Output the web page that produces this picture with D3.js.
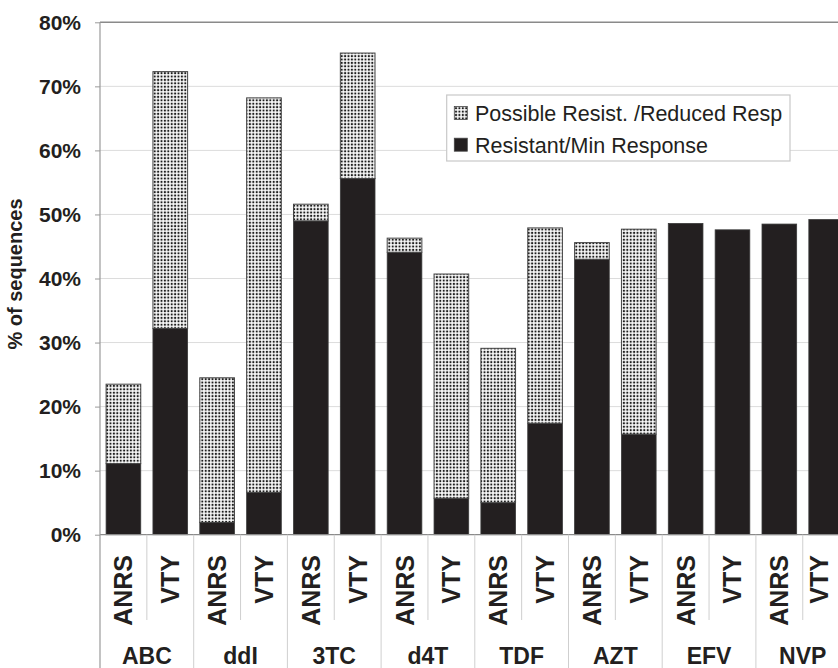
<!DOCTYPE html>
<html>
<head>
<meta charset="utf-8">
<script src="https://cdn.jsdelivr.net/npm/d3@7"></script>
<style>
  body { margin: 0; background: #fff; }
  svg { display: block; font-family: "Liberation Sans", Arial, sans-serif; }
</style>
</head>
<body>
<div id="chart"></div>
<script>
var drugs = ['ABC', 'ddI', '3TC', 'd4T', 'TDF', 'AZT', 'EFV', 'NVP'];
var sources = ['ANRS', 'VTY'];
// % of sequences, one value per drug/source pair (ANRS, VTY, ANRS, VTY ...)
var resistant = [11.1, 32.2, 1.9, 6.6, 49.0, 55.6, 44.1, 5.7, 5.0, 17.4, 43.0, 15.7, 48.6, 47.6, 48.5, 49.2];
var possible = [12.4, 40.1, 22.6, 61.6, 2.6, 19.6, 2.2, 35.0, 24.1, 30.5, 2.6, 32.0, 0, 0, 0, 0];
var yTicks = [0, 10, 20, 30, 40, 50, 60, 70, 80];
var legendLabels = ['Possible Resist. /Reduced Resp', 'Resistant/Min Response'];

var width = 838;
var height = 668;
// window.top is read-only, so don't call it "top"
var plotLeft = 100, plotTop = 22.3, plotBottom = 534.7, plotRight = 849.6;
var ink = '#231f20';

var rows = [];
drugs.forEach(function(d, i) {
  sources.forEach(function(s, j) {
    var k = i * 2 + j;
    rows.push({ key: d + '-' + s, drug: d, source: s, res: resistant[k], pos: possible[k] });
  });
});

var svg = d3.select('#chart')
  .append('svg')
  .attr('width', width)
  .attr('height', height);

var pattern = svg.append('defs')
  .append('pattern')
  .attr('id', 'dots')
  .attr('patternUnits', 'userSpaceOnUse')
  .attr('width', 3.4)
  .attr('height', 3.4);
pattern.append('rect').attr('width', 3.4).attr('height', 3.4).attr('fill', '#fff');
pattern.append('rect').attr('x', 0.7).attr('y', 0.7).attr('width', 2).attr('height', 2).attr('fill', '#1e1e1e');

var x = d3.scaleBand()
  .domain(rows.map(function(r) { return r.key; }))
  .range([plotLeft, plotRight])
  .paddingInner(0.26)
  .paddingOuter(0.13);

var y = d3.scaleLinear()
  .domain([0, 80])
  .range([plotBottom, plotTop]);

// gridlines
svg.append('g')
  .selectAll('line')
  .data(yTicks.slice(1, -1))
  .enter()
  .append('line')
  .attr('x1', plotLeft)
  .attr('x2', width)
  .attr('y1', function(d) { return y(d); })
  .attr('y2', function(d) { return y(d); })
  .attr('stroke', '#dcdcdc')
  .attr('stroke-width', 1);

svg.append('line')
  .attr('x1', plotLeft).attr('x2', width)
  .attr('y1', y(80)).attr('y2', y(80))
  .attr('stroke', '#8a8a8a')
  .attr('stroke-width', 1.5);

// y axis
var yAxis = svg.append('g')
  .attr('transform', 'translate(' + plotLeft + ',0)')
  .call(d3.axisLeft(y)
    .tickValues(yTicks)
    .tickSize(5)
    .tickPadding(14)
    .tickFormat(function(d) { return d + '%'; }));
yAxis.select('.domain').remove();
yAxis.selectAll('.tick line').attr('stroke', '#9a9a9a');
yAxis.selectAll('.tick text')
  .attr('fill', ink)
  .attr('font-size', 21)
  .attr('font-weight', 'bold')
  .attr('font-family', '"Liberation Sans", Arial, sans-serif');

svg.append('text')
  .attr('transform', 'translate(21.5,274) rotate(-90)')
  .attr('text-anchor', 'middle')
  .attr('font-size', 20)
  .attr('font-weight', 'bold')
  .attr('fill', ink)
  .text('% of sequences');

// bars
var bars = svg.append('g');
bars.selectAll('rect.res')
  .data(rows)
  .enter()
  .append('rect')
  .attr('class', 'res')
  .attr('x', function(d) { return x(d.key); })
  .attr('y', function(d) { return y(d.res); })
  .attr('width', x.bandwidth())
  .attr('height', function(d) { return y(0) - y(d.res); })
  .attr('fill', ink)
  .attr('stroke', '#3a3a3a')
  .attr('stroke-width', 0.8);

bars.selectAll('rect.pos')
  .data(rows.filter(function(d) { return d.pos > 0; }))
  .enter()
  .append('rect')
  .attr('class', 'pos')
  .attr('x', function(d) { return x(d.key); })
  .attr('y', function(d) { return y(d.res + d.pos); })
  .attr('width', x.bandwidth())
  .attr('height', function(d) { return y(d.res) - y(d.res + d.pos); })
  .attr('fill', 'url(#dots)')
  .attr('stroke', '#444')
  .attr('stroke-width', 1);

// category axis
svg.append('line')
  .attr('x1', plotLeft).attr('x2', width)
  .attr('y1', plotBottom).attr('y2', plotBottom)
  .attr('stroke', '#8a8a8a')
  .attr('stroke-width', 1.2);

svg.append('line')
  .attr('x1', plotLeft).attr('x2', plotLeft)
  .attr('y1', plotTop).attr('y2', height)
  .attr('stroke', '#9a9a9a')
  .attr('stroke-width', 1.2);

var step = x.step();
var cat = svg.append('g');
cat.selectAll('line.grp')
  .data(drugs.slice(1))
  .enter()
  .append('line')
  .attr('x1', function(d, i) { return plotLeft + (i + 1) * 2 * step; })
  .attr('x2', function(d, i) { return plotLeft + (i + 1) * 2 * step; })
  .attr('y1', plotBottom)
  .attr('y2', height)
  .attr('stroke', '#cfcfcf');

cat.selectAll('line.sub')
  .data(drugs)
  .enter()
  .append('line')
  .attr('x1', function(d, i) { return plotLeft + (i * 2 + 1) * step; })
  .attr('x2', function(d, i) { return plotLeft + (i * 2 + 1) * step; })
  .attr('y1', plotBottom)
  .attr('y2', 620)
  .attr('stroke', '#cfcfcf');

// the last label is pulled in so it stays inside the picture
cat.selectAll('text.sub')
  .data(rows)
  .enter()
  .append('text')
  .attr('transform', function(d) {
    var cx = Math.min(x(d.key) + x.bandwidth() / 2, width - 19);
    return 'translate(' + cx + ',555) rotate(-90)';
  })
  .attr('text-anchor', 'end')
  .attr('dy', '0.36em')
  .attr('font-size', 25)
  .attr('font-weight', 'bold')
  .attr('fill', ink)
  .text(function(d) { return d.source; });

cat.selectAll('text.grp')
  .data(drugs)
  .enter()
  .append('text')
  .attr('x', function(d, i) { return plotLeft + (i * 2 + 1) * step; })
  .attr('y', 664)
  .attr('text-anchor', 'middle')
  .attr('font-size', 23)
  .attr('font-weight', 'bold')
  .attr('fill', ink)
  .text(function(d) { return d; });

// legend
var legend = svg.append('g');
legend.append('rect')
  .attr('x', 446.7)
  .attr('y', 95)
  .attr('width', 343.3)
  .attr('height', 66)
  .attr('fill', '#fff')
  .attr('stroke', '#c8c8c8')
  .attr('stroke-width', 1.2);

var items = legend.selectAll('g.item')
  .data(legendLabels)
  .enter()
  .append('g')
  .attr('transform', function(d, i) { return 'translate(454.3,' + (106.5 + i * 31.7) + ')'; });
items.append('rect')
  .attr('width', 13)
  .attr('height', 13)
  .attr('fill', function(d, i) { return i == 0 ? 'url(#dots)' : ink; })
  .attr('stroke', '#444')
  .attr('stroke-width', 0.8);
items.append('text')
  .attr('x', 20.7)
  .attr('y', 14.5)
  .attr('font-size', 21.5)
  .attr('fill', ink)
  .text(function(d) { return d; });
</script>
</body>
</html>
